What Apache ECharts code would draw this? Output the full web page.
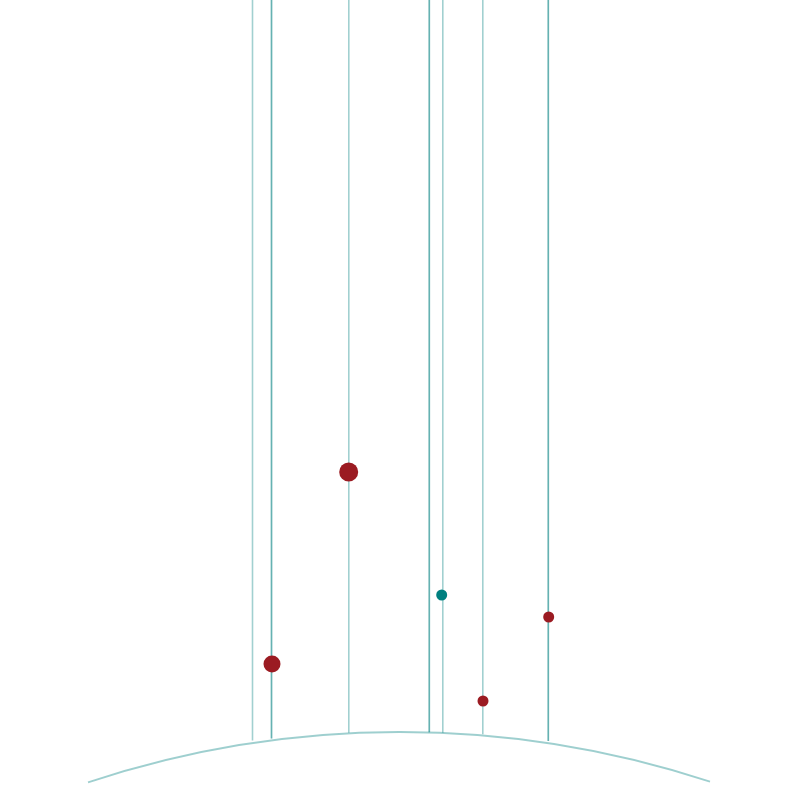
<!DOCTYPE html>
<html>
<head>
<meta charset="utf-8">
<script src="https://cdn.jsdelivr.net/npm/echarts@6/dist/echarts.min.js"></script>
<style>
  html, body { margin: 0; background: #fff; }
  #chart { width: 800px; height: 800px; }
</style>
</head>
<body>
<div id="chart"></div>
<script>
// stems: x position, where they leave the ground arc, and top (past the frame)
const stemX = [252.5, 271.5, 271.5, 348.8, 429.3, 429.3, 442.8, 482.8, 548.3, 548.3];
const stemBase = [59.5, 61.5, 61.5, 67.3, 67.7, 67.7, 67.3, 65.7, 59, 59];
const stemTop = [820, 820, 820, 820, 820, 820, 820, 820, 820, 820];

// dots on the stems
const dotX = [272, 348.7, 441.7, 483, 548.7];
const dotY = [136, 328, 205, 99, 183];
const dotSize = [17, 19, 11, 11, 11];
const dotColor = ['#9b1b22', '#9b1b22', '#008080', '#9b1b22', '#9b1b22'];

// ground arc: centre, radius and the x of its two ends
const arcCenter = [400, -924];
const arcRadius = 992;
const arcEnds = [88, 710];

const chart = echarts.init(document.getElementById('chart'));

const stemData = stemX.map((x, i) => [x, stemBase[i], stemTop[i]]);
const dotData = dotX.map((x, i) => ({
  value: [x, dotY[i]],
  symbolSize: dotSize[i],
  itemStyle: { color: dotColor[i], opacity: 1 }
}));

chart.setOption({
  animation: false,
  backgroundColor: '#fff',
  grid: { left: 0, right: 0, top: 0, bottom: 0 },
  xAxis: { type: 'value', min: 0, max: 800, show: false },
  yAxis: { type: 'value', min: 0, max: 800, show: false },
  series: [
    {
      type: 'custom',
      data: [[arcCenter[0], arcCenter[1], arcRadius]],
      renderItem: (params, api) => {
        const c = api.coord([api.value(0), api.value(1)]);
        const r = api.size([api.value(2), 0])[0];
        const a = arcEnds.map((x) => {
          const dx = api.size([x - arcCenter[0], 0])[0] * Math.sign(x - arcCenter[0]);
          return Math.atan2(-Math.sqrt(r * r - dx * dx), dx);
        });
        return {
          type: 'arc',
          shape: { cx: c[0], cy: c[1], r: r, startAngle: a[0], endAngle: a[1], clockwise: true },
          style: { fill: null, stroke: 'rgba(0,128,128,0.38)', lineWidth: 1.8 }
        };
      }
    },
    {
      type: 'custom',
      data: stemData,
      renderItem: (params, api) => {
        const p0 = api.coord([api.value(0), api.value(1)]);
        const p1 = api.coord([api.value(0), api.value(2)]);
        return {
          type: 'line',
          shape: { x1: p0[0], y1: p0[1], x2: p1[0], y2: p1[1] },
          style: { stroke: 'rgba(0,128,128,0.37)', lineWidth: 1.6 }
        };
      }
    },
    {
      type: 'scatter',
      symbol: 'circle',
      data: dotData,
      itemStyle: { opacity: 1 },
      z: 5
    }
  ]
});
</script>
</body>
</html>
